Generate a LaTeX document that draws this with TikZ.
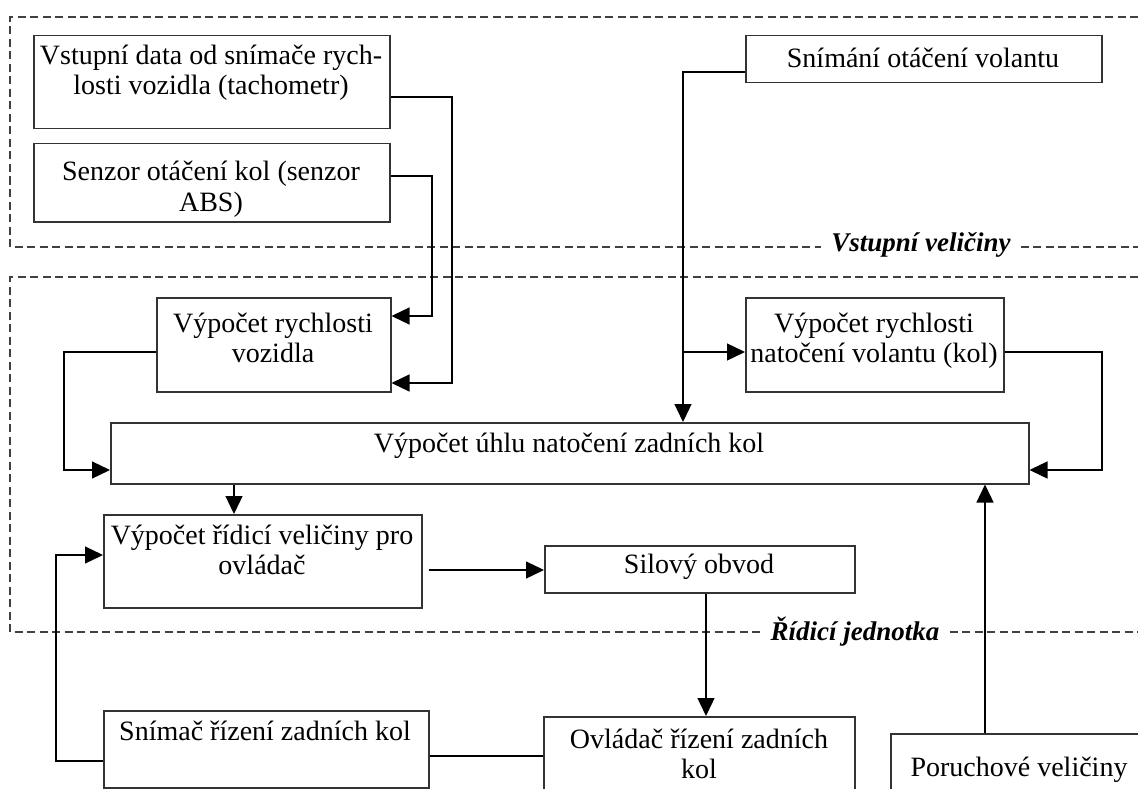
\documentclass[tikz,border=0pt]{standalone}
\usepackage{fontspec}
\setmainfont{Liberation Serif}
\usetikzlibrary{arrows.meta}
\begin{document}
\begin{tikzpicture}[x=1pt,y=-1pt,
 box/.style={draw=black!80, line width=1.5pt, anchor=north west, inner sep=0pt},
 txt/.style={anchor=base, align=center, inner sep=0pt, font=\fontsize{28}{30}\selectfont},
 conn/.style={line width=1.3pt},
 arr/.style={conn, -{Triangle[length=18pt,width=17pt]}},
 region/.style={draw=black!75, line width=1.2pt, dash pattern=on 8pt off 4.5pt},
 lbl/.style={font=\fontsize{27}{32}\selectfont\bfseries\itshape, inner sep=0pt}]
\useasboundingbox (0,0) rectangle (1138,789);

% regions
\node[lbl] (l1) at (921,245) {Vstupní veličiny};
\node[lbl] (l2) at (855,632) {Řídicí jednotka};
\draw[region] (1138,17) -- (10,17) -- (10,247) -- ([xshift=-10pt]l1.west |- 0,247);
\draw[region] ([xshift=10pt]l1.east |- 0,247) -- (1138,247);
\draw[region] (1138,277) -- (10,277) -- (10,632) -- ([xshift=-10pt]l2.west |- 0,632);
\draw[region] ([xshift=10pt]l2.east |- 0,632) -- (1138,632);

% boxes
\node[box, minimum width=356pt, minimum height=93pt] (b1) at (33,35) {};
\node[box, minimum width=356pt, minimum height=78pt] (b2) at (33,143) {};
\node[box, minimum width=356pt, minimum height=47pt] (b3) at (745,35) {};
\node[box, minimum width=234pt, minimum height=94pt] (b4) at (156,297) {};
\node[box, minimum width=258pt, minimum height=94pt] (b5) at (745,297) {};
\node[box, minimum width=918pt, minimum height=61pt] (b6) at (110,422) {};
\node[box, minimum width=318pt, minimum height=93pt] (b7) at (103,514) {};
\node[box, minimum width=310pt, minimum height=47pt] (b8) at (544,545) {};
\node[box, minimum width=325pt, minimum height=77pt] (b9) at (103,710) {};
\node[box, minimum width=311pt, minimum height=90pt] (b10) at (543,716) {};
\node[box, minimum width=270pt, minimum height=80pt] (b11) at (890,733) {};

% texts (base = baseline of last line)
\node[txt] (t1) at (211,95) {Vstupní data od snímače rych-\\losti vozidla (tachometr)};
\node[txt] (t2) at (211,211) {Senzor otáčení kol (senzor\\ABS)};
\node[txt] (t3) at (923,68) {Snímání otáčení volantu};
\node[txt] (t4) at (273,362) {Výpočet rychlosti\\vozidla};
\node[txt] (t5) at (874,362) {Výpočet rychlosti\\natočení volantu (kol)};
\node[txt] (t6) at (569,452) {Výpočet úhlu natočení zadních kol};
\node[txt] (t7) at (262,574) {Výpočet řídicí veličiny pro\\ovládač};
\node[txt] (t8) at (699,573) {Silový obvod};
\node[txt] (t9) at (265,740) {Snímač řízení zadních kol};
\node[txt] (t10) at (699,778) {Ovládač řízení zadních\\kol};
\node[txt] (t11) at (1019,776) {Poruchové veličiny};

% connectors
\draw[arr] (b1.east |- 0,97) -- (452,97) -- (452,383) -- (b4.east |- 0,383);
\draw[arr] (b2.east |- 0,176) -- (432,176) -- (432,316) -- (b4.east |- 0,316);
\draw[arr] (b3.west |- 0,72) -- (683,72) -- (b6.north -| 683,0);
\coordinate (j1) at (683,352);
\draw[arr] (j1) -- (b5.west |- j1);
\draw[arr] (b4.west |- 0,352) -- (64,352) -- (64,470) -- (b6.west |- 0,470);
\draw[arr] (b5.east |- 0,352) -- (1102,352) -- (1102,470) -- (b6.east |- 0,470);
\draw[arr] (b6.south -| 234,0) -- (b7.north -| 234,0);
\draw[arr] ([xshift=6pt]b7.east |- 0,570) -- (b8.west |- 0,570);
\draw[arr] (b8.south -| 706,0) -- (b10.north -| 706,0);
\draw[conn] (b10.west |- 0,756) -- (b9.east |- 0,756);
\draw[arr] (b9.west |- 0,761) -- (56,761) -- (56,555) -- (b7.west |- 0,555);
\draw[arr] (b11.north -| 985,0) -- (b6.south -| 985,0);
\end{tikzpicture}
\end{document}
